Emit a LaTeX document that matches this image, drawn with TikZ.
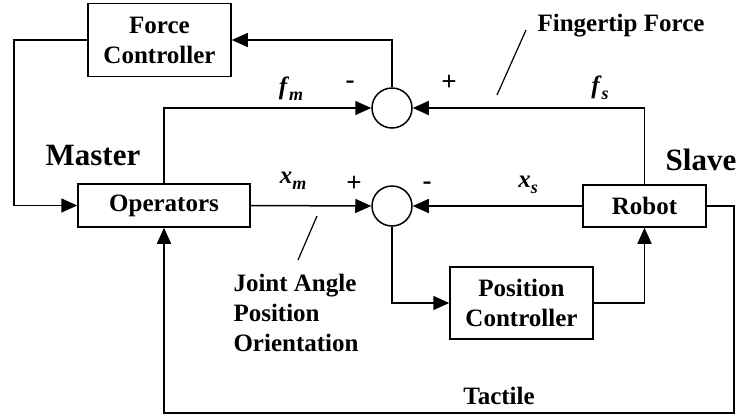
\documentclass[tikz,border=0pt]{standalone}
\usepackage{fontspec}
\setmainfont{Liberation Serif}
\usetikzlibrary{arrows.meta}

% bold italic signal name with a lowered subscript
\newcommand{\signame}[2]{\textbf{\textit{#1}}\raisebox{-0.5ex}{\fontsize{18}{18}\selectfont\bfseries\itshape #2}}

\tikzset{
  every picture/.style={line width=1.5pt},
  blockbox/.style={draw, rectangle, inner sep=0pt, align=center,
    font=\fontsize{25}{30}\selectfont\bfseries},
  junction/.style={draw, circle, minimum size=40pt, inner sep=0pt},
  arr/.style={-{Triangle[length=16pt,width=14pt]}},
  lbl/.style={font=\fontsize{25}{30}\selectfont\bfseries, inner sep=0pt},
  biglbl/.style={font=\fontsize{31}{36}\selectfont\bfseries, inner sep=0pt},
  sign/.style={font=\fontsize{27}{30}\selectfont\bfseries, inner sep=0pt},
}

\begin{document}
\begin{tikzpicture}[x=1pt, y=-1pt]
  \useasboundingbox (0,0) rectangle (737,416);

  % blocks
  \node[blockbox, minimum width=143pt, minimum height=73pt] (fc) at (159.5,40) {Force\\Controller};
  \node[blockbox, minimum width=172pt, minimum height=43pt] (op) at (164,205.5) {Operators};
  \node[blockbox, minimum width=123pt, minimum height=42pt] (rb) at (644.5,206) {Robot};
  \node[blockbox, minimum width=143pt, minimum height=72pt] (pc) at (521.5,303) {Position\\Controller};

  % summing junctions
  \node[junction] (s1) at (392,108) {};
  \node[junction] (s2) at (392,206) {};

  % auxiliary corners
  \coordinate (cL) at (14,205.5);
  \coordinate (cR) at (734,413);

  % force loop
  \draw[arr] (s1.north) |- (fc.east);
  \draw[arr] (fc.west) -| (cL) -- (op.west);
  \draw[arr] (op.north) |- (s1.west);
  \draw[arr] (rb.north) |- (s1.east);

  % position loop
  \draw[arr] (op.east) -- (s2.west);
  \draw[arr] (rb.west) -- (s2.east);
  \draw[arr] (s2.south) |- (pc.west);
  \draw[arr] (pc.east) -| (rb.south);

  % tactile feedback
  \draw[arr] (rb.east) -| (cR) -| (op.south);

  % signal names
  \node[lbl] (fm) at (291,89) {\signame{f}{m}};
  \node[lbl] (fs) at (600,88) {\signame{f}{s}};
  \node[lbl] (xm) at (293,181) {\signame{x}{m}};
  \node[lbl] (xs) at (528,185) {\signame{x}{s}};

  % signs at the junctions
  \node[sign] (m1) at (350,85) {-};
  \node[sign] (p1) at (449,83) {+};
  \node[sign] (p2) at (354,184) {+};
  \node[sign] (m2) at (427,186) {-};

  % annotations
  \node[lbl] (ff) at (621,26) {Fingertip Force};
  \coordinate (ffa) at (526,30);
  \coordinate (ffb) at (497,95);
  \draw[line width=1.2pt] (ffa) -- (ffb);

  \node[lbl, align=left] (ja) at (296,313) {Joint Angle\\Position\\Orientation};
  \coordinate (jaa) at (317,216);
  \coordinate (jab) at (298,260);
  \draw[line width=1.2pt] (jaa) -- (jab);

  \node[biglbl] (ms) at (93,155) {Master};
  \node[biglbl] (sl) at (701,160) {Slave};
  \node[lbl] (tc) at (499,396) {Tactile};
\end{tikzpicture}
\end{document}
